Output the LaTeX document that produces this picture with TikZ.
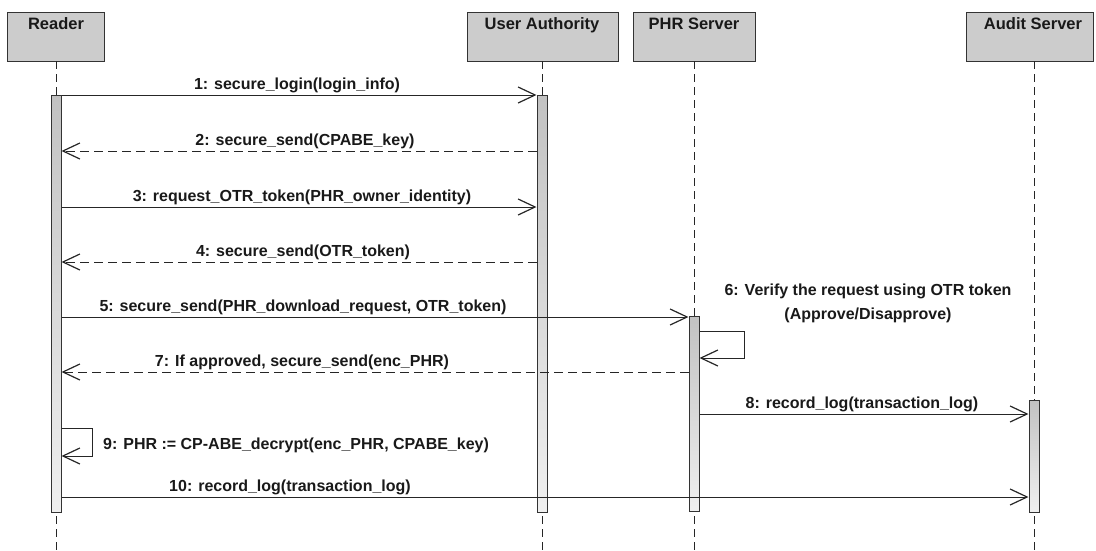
\documentclass[tikz,border=0pt]{standalone}
\usepackage{fontspec}
\setmainfont{Liberation Sans}
\usetikzlibrary{arrows.meta}

\tikzset{
  actor/.style={draw=black!80, fill=black!20, line width=1pt, minimum height=49pt, inner sep=0pt},
  headtext/.style={font=\fontsize{16.5}{18}\selectfont\bfseries, text=black!90, inner sep=0pt, anchor=base},
  lifeline/.style={draw=black!85, line width=1pt, dash pattern=on 8pt off 5pt},
  actbar/.style={draw=black!80, line width=1pt, top color=black!24, bottom color=black!6,
                 minimum width=10pt, inner sep=0pt},
  msg/.style={draw=black!85, line width=1pt, -{Straight Barb[length=17pt,width=16pt,line width=1.2pt]}},
  reply/.style={msg, dash pattern=on 9pt off 5pt},
  mlabel/.style={font=\fontsize{16}{24}\selectfont\bfseries, text=black!90, inner sep=0pt, anchor=base}
}

\begin{document}
\begin{tikzpicture}[x=1pt, y=-1pt]
  \useasboundingbox (0,0) rectangle (1096,550);

  % actor heads
  \node[actor, minimum width=97pt]  (reader) at (56,36.5)    {};
  \node[actor, minimum width=151pt] (ua)     at (542.5,36.5) {};
  \node[actor, minimum width=122pt] (phr)    at (694,36.5)   {};
  \node[actor, minimum width=127pt] (audit)  at (1029.5,36.5) {};
  \node[headtext] (readerT) at (56,29)   {Reader};
  \node[headtext] (uaT)     at (542,29)  {User Authority};
  \node[headtext] (phrT)    at (694,29)  {PHR Server};
  \node[headtext] (auditT)  at (1033,29) {Audit Server};

  % lifelines
  \coordinate (readerTop) at (56,61);   \coordinate (readerEnd) at (56,550);
  \coordinate (uaTop)     at (542,61);  \coordinate (uaEnd)     at (542,550);
  \coordinate (phrTop)    at (694,61);  \coordinate (phrEnd)    at (694,550);
  \coordinate (auditTop)  at (1034,61); \coordinate (auditEnd)  at (1034,550);
  \draw[lifeline] (readerTop) -- (readerEnd);
  \draw[lifeline] (uaTop) -- (uaEnd);
  \draw[lifeline] (phrTop) -- (phrEnd);
  \draw[lifeline] (auditTop) -- (auditEnd);

  % activation bars
  \node[actbar, minimum height=417pt] (readerBar) at (56,303.5)  {};
  \node[actbar, minimum height=417pt] (uaBar)     at (542,303.5) {};
  \node[actbar, minimum height=195pt] (phrBar)    at (694,413.5) {};
  \node[actbar, minimum height=112pt] (auditBar)  at (1034,456)  {};

  % message rows
  \coordinate (m1) at (0,95);   \coordinate (m2) at (0,151);
  \coordinate (m3) at (0,207);  \coordinate (m4) at (0,262);
  \coordinate (m5) at (0,317);  \coordinate (m7) at (0,372);
  \coordinate (m8) at (0,414);  \coordinate (m10) at (0,497);
  \coordinate (s6a) at (0,331); \coordinate (s6b) at (0,358);
  \coordinate (s9a) at (0,428); \coordinate (s9b) at (0,456);

  \draw[msg]   (readerBar.east |- m1) -- (uaBar.west |- m1);
  \draw[reply] (uaBar.west |- m2) -- (readerBar.east |- m2);
  \draw[msg]   (readerBar.east |- m3) -- (uaBar.west |- m3);
  \draw[reply] (uaBar.west |- m4) -- (readerBar.east |- m4);
  \draw[msg]   (readerBar.east |- m5) -- (phrBar.west |- m5);
  \draw[msg]   (phrBar.east |- s6a) -- ++(45,0) |- (phrBar.east |- s6b);
  \draw[reply] (phrBar.west |- m7) -- (readerBar.east |- m7);
  \draw[msg]   (phrBar.east |- m8) -- (auditBar.west |- m8);
  \draw[msg]   (readerBar.east |- s9a) -- ++(31,0) |- (readerBar.east |- s9b);
  \draw[msg]   (readerBar.east |- m10) -- (auditBar.west |- m10);

  % message labels
  \node[mlabel] (l1)  at (297,89)  {1: secure\_login(login\_info)};
  \node[mlabel] (l2)  at (305,145) {2: secure\_send(CPABE\_key)};
  \node[mlabel] (l3)  at (302,201) {3: request\_OTR\_token(PHR\_owner\_identity)};
  \node[mlabel] (l4)  at (303,256) {4: secure\_send(OTR\_token)};
  \node[mlabel] (l5)  at (303,311) {5: secure\_send(PHR\_download\_request, OTR\_token)};
  \node[mlabel, align=center] (l6) at (868,319) {6: Verify the request using OTR token\\(Approve/Disapprove)};
  \node[mlabel] (l7)  at (302,366) {7: If approved, secure\_send(enc\_PHR)};
  \node[mlabel] (l8)  at (862,408) {8: record\_log(transaction\_log)};
  \node[mlabel, anchor=base west] (l9) at (103,449) {9: PHR := CP-ABE\_decrypt(enc\_PHR, CPABE\_key)};
  \node[mlabel] (l10) at (290,491) {10: record\_log(transaction\_log)};
\end{tikzpicture}
\end{document}
